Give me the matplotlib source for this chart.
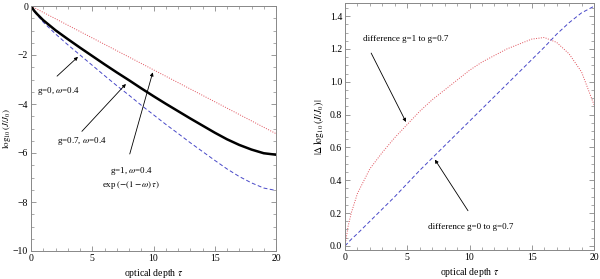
import numpy as np
import matplotlib.pyplot as plt
from matplotlib.ticker import MultipleLocator

plt.rcParams['font.family'] = ['Liberation Serif', 'DejaVu Serif']
plt.rcParams['mathtext.fontset'] = 'stix'

# optical depth grid
tau = [0, 0.25, 0.5, 1, 2, 3, 4, 5, 6, 7, 8, 9, 10, 11, 12, 13, 14, 15, 16, 17, 18, 19, 20]

# left panel: log10(J/J0)
g07_w04 = [0, -0.19, -0.33, -0.58, -0.99, -1.35, -1.70, -2.04, -2.38, -2.71, -3.03, -3.36,
           -3.68, -3.99, -4.29, -4.59, -4.88, -5.17, -5.44, -5.67, -5.86, -6.01, -6.07]
g0_w04 = [0, -0.21, -0.37, -0.66, -1.14, -1.58, -2.00, -2.42, -2.84, -3.25, -3.64, -4.05,
          -4.44, -4.83, -5.20, -5.58, -5.94, -6.30, -6.65, -6.96, -7.22, -7.43, -7.53]
tau_exp = [0, 20]
g1_exp = [0, -5.21]

# right panel: |delta log10(J/J0)|
diff_g1_g07 = [0, 0.12, 0.20, 0.32, 0.47, 0.57, 0.66, 0.74, 0.82, 0.89, 0.95, 1.01,
               1.07, 1.12, 1.16, 1.20, 1.23, 1.26, 1.27, 1.24, 1.17, 1.06, 0.86]
diff_g0_g07 = [0, 0.02, 0.04, 0.075, 0.15, 0.225, 0.30, 0.38, 0.46, 0.535, 0.61, 0.685,
               0.76, 0.835, 0.91, 0.985, 1.06, 1.135, 1.21, 1.29, 1.36, 1.42, 1.46]

red = '#e0505a'
blue = '#4848c8'
frame = '#888888'

fig = plt.figure(figsize=(6, 2.79), dpi=100)
ax1 = fig.add_axes([31/600, 1 - 251/279, 245/600, 245/279])
ax2 = fig.add_axes([345/600, 1 - 250/279, 249/600, 247/279])


def style(ax):
    ax.tick_params(which='both', direction='in', top=True, right=True,
                   labelsize=7, color=frame, pad=2)
    ax.tick_params(which='major', length=3.5, width=0.6)
    ax.tick_params(which='minor', length=2, width=0.5)
    for s in ax.spines.values():
        s.set_color(frame)
        s.set_linewidth(0.7)
    ax.set_xlim(0, 20)
    ax.xaxis.set_major_locator(MultipleLocator(5))
    ax.xaxis.set_minor_locator(MultipleLocator(1))
    ax.set_xlabel(r'optical depth $\tau$', fontsize=7, labelpad=3)


arrow = dict(arrowstyle='-|>', color='black', lw=0.6, mutation_scale=5)
fs = 6.5

# left panel
ax1.plot(tau_exp, g1_exp, color=red, ls=(0, (1, 1.5)), lw=0.7)
ax1.plot(tau, g0_w04, color=blue, ls=(0, (4, 2.5)), lw=0.7)
ax1.plot(tau, g07_w04, color='black', lw=1.8)
style(ax1)
ax1.set_ylim(-10, 0)
ax1.yaxis.set_major_locator(MultipleLocator(2))
ax1.yaxis.set_minor_locator(MultipleLocator(0.5))
ax1.set_ylabel(r'$\log_{10}(J/J_0)$', fontsize=6.5)
ax1.yaxis.set_label_coords(-0.072, 0.5)

ax1.annotate('', xy=(4.0, -2.0), xytext=(1.96, -2.94), arrowprops=arrow)
ax1.text(0.5, -3.47, r'g=0, $\omega$=0.4', fontsize=fs, va='center', ha='left')
ax1.annotate('', xy=(7.9, -3.1), xytext=(4.0, -5.2), arrowprops=arrow)
ax1.text(2.1, -5.5, r'g=0.7, $\omega$=0.4', fontsize=fs, va='center', ha='left')
ax1.annotate('', xy=(10.0, -2.6), xytext=(8.0, -6.15), arrowprops=arrow)
ax1.text(8.2, -6.75, r'g=1, $\omega$=0.4', fontsize=fs, va='center', ha='center')
ax1.text(8.2, -7.3, r'exp$\,(-(1-\omega)\,\tau)$', fontsize=fs, va='center', ha='center')

# right panel
ax2.plot(tau, diff_g1_g07, color=red, ls=(0, (1, 1.5)), lw=0.7)
ax2.plot(tau, diff_g0_g07, color=blue, ls=(0, (4, 2.5)), lw=0.7)
style(ax2)
ax2.set_ylim(-0.025, 1.48)
ax2.yaxis.set_major_locator(MultipleLocator(0.2))
ax2.yaxis.set_minor_locator(MultipleLocator(0.05))
ax2.yaxis.set_major_formatter(plt.FormatStrFormatter('%.1f'))
ax2.set_ylabel(r'$|\Delta\,\log_{10}(J/J_0)|$', fontsize=7)
ax2.yaxis.set_label_coords(-0.075, 0.5)

ax2.annotate('', xy=(5.0, 0.74), xytext=(2.0, 1.19), arrowprops=arrow)
ax2.text(1.45, 1.26, 'difference g=1 to g=0.7', fontsize=fs, va='center', ha='left')
ax2.annotate('', xy=(7.1, 0.54), xytext=(10.0, 0.2), arrowprops=arrow)
ax2.text(10.1, 0.115, 'difference g=0 to g=0.7', fontsize=fs, va='center', ha='center')

fig.savefig('out.png', dpi=100)
